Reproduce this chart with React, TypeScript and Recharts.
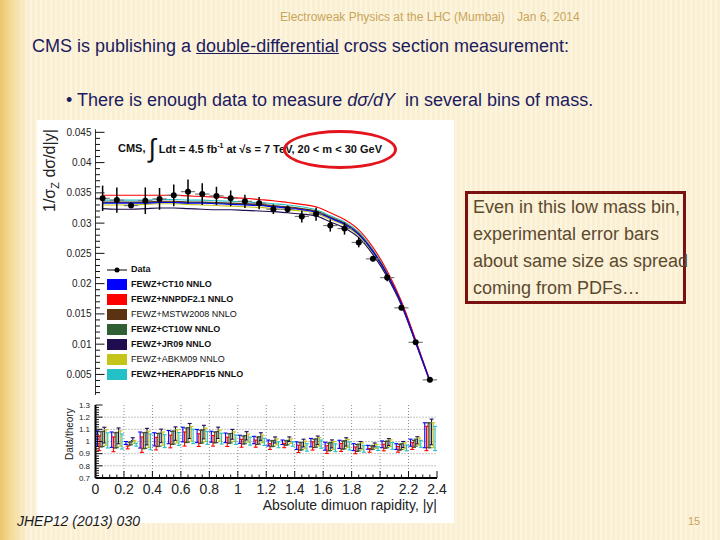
import React from 'react';
import { ComposedChart, Line, Scatter, XAxis, YAxis, ErrorBar, CartesianGrid } from 'recharts';

// |y| bins of width 0.1, points sit at the bin centres
const binCentres = [0.05, 0.15, 0.25, 0.35, 0.45, 0.55, 0.65, 0.75, 0.85, 0.95, 1.05, 1.15, 1.25, 1.35, 1.45, 1.55, 1.65, 1.75, 1.85, 1.95, 2.05, 2.15, 2.25, 2.35];
const binHalfWidth = 0.05;

// CMS data, 20 < m < 30 GeV, 1/sigma dsigma/d|y|
const dataValues = [0.0341, 0.0338, 0.0329, 0.0337, 0.0340, 0.0346, 0.0352, 0.0348, 0.0345, 0.0341, 0.0336, 0.0333, 0.0323, 0.0323, 0.0311, 0.0315, 0.0296, 0.0291, 0.0268, 0.0241, 0.0210, 0.0160, 0.0103, 0.0041];
const dataErrors = [0.0021, 0.0021, 0.0004, 0.0022, 0.0018, 0.0018, 0.0020, 0.0018, 0.0015, 0.0013, 0.0011, 0.0010, 0.0008, 0.0006, 0.0010, 0.0011, 0.0010, 0.0010, 0.0008, 0.0004, 0.0006, 0.0004, 0.0003, 0.0004];

// FEWZ NNLO predictions per PDF set
const ct10 = [0.0333, 0.0333, 0.0333, 0.0333, 0.0334, 0.0334, 0.0333, 0.0333, 0.0332, 0.0331, 0.0330, 0.0329, 0.0327, 0.0325, 0.0322, 0.0318, 0.0308, 0.0298, 0.0281, 0.0253, 0.0215, 0.0167, 0.0104, 0.0039];
const nnpdf = [0.0346, 0.0346, 0.0346, 0.0346, 0.0346, 0.0346, 0.0345, 0.0344, 0.0343, 0.0342, 0.0341, 0.0339, 0.0337, 0.0334, 0.0331, 0.0327, 0.0317, 0.0306, 0.0289, 0.0260, 0.0221, 0.0171, 0.0107, 0.0040];
const mstw = [0.0335, 0.0335, 0.0335, 0.0335, 0.0336, 0.0336, 0.0335, 0.0335, 0.0334, 0.0333, 0.0332, 0.0331, 0.0329, 0.0327, 0.0324, 0.0320, 0.0310, 0.0300, 0.0283, 0.0254, 0.0216, 0.0168, 0.0105, 0.0039];
const ct10w = [0.0334, 0.0334, 0.0334, 0.0334, 0.0335, 0.0335, 0.0334, 0.0334, 0.0333, 0.0332, 0.0331, 0.0330, 0.0328, 0.0326, 0.0323, 0.0319, 0.0309, 0.0299, 0.0282, 0.0253, 0.0215, 0.0167, 0.0104, 0.0039];
const jr09 = [0.0324, 0.0323, 0.0323, 0.0324, 0.0325, 0.0325, 0.0324, 0.0323, 0.0322, 0.0322, 0.0321, 0.0320, 0.0319, 0.0317, 0.0315, 0.0312, 0.0302, 0.0292, 0.0276, 0.0248, 0.0211, 0.0164, 0.0102, 0.0038];
const abkm = [0.0330, 0.0330, 0.0330, 0.0331, 0.0332, 0.0332, 0.0331, 0.0330, 0.0329, 0.0328, 0.0327, 0.0326, 0.0324, 0.0322, 0.0320, 0.0316, 0.0306, 0.0296, 0.0279, 0.0251, 0.0213, 0.0166, 0.0103, 0.0039];
const hera = [0.0338, 0.0338, 0.0338, 0.0338, 0.0339, 0.0339, 0.0338, 0.0338, 0.0337, 0.0336, 0.0335, 0.0334, 0.0332, 0.0330, 0.0327, 0.0322, 0.0312, 0.0302, 0.0285, 0.0256, 0.0218, 0.0169, 0.0105, 0.0040];

const pdfKeys = ['ct10', 'nnpdf', 'mstw', 'ct10w', 'jr09', 'abkm', 'hera'];
const pdfNames = ['FEWZ+CT10 NNLO', 'FEWZ+NNPDF2.1 NNLO', 'FEWZ+MSTW2008 NNLO', 'FEWZ+CT10W NNLO', 'FEWZ+JR09 NNLO', 'FEWZ+ABKM09 NNLO', 'FEWZ+HERAPDF15 NNLO'];
const pdfValues = [ct10, nnpdf, mstw, ct10w, jr09, abkm, hera];
const pdfColors = ['#0000ff', '#ff0000', '#5c3312', '#2f5f32', '#1f0d4f', '#c4c41a', '#22c1c8'];
const pdfBold = [true, true, false, true, true, false, true];
// where each pdf's ratio bar sits inside its bin
const clusterOffsets = [-0.036, -0.024, -0.012, 0, 0.012, 0.024, 0.036];

// axis ticks
const mainYTicks = [0.005, 0.01, 0.015, 0.02, 0.025, 0.03, 0.035, 0.04, 0.045];
const ratioYTicks = [0.7, 0.8, 0.9, 1, 1.1, 1.2, 1.3];
const xTicks = [0, 0.2, 0.4, 0.6, 0.8, 1, 1.2, 1.4, 1.6, 1.8, 2, 2.2, 2.4];
const ratioGridY = [0.8, 0.9, 1, 1.1, 1.2];
const ratioGridX = [0.2, 0.4, 0.6, 0.8, 1, 1.2, 1.4, 1.6, 1.8, 2, 2.2];

const steps = (from: number, to: number, step: number, dec: number) => {
  const out: number[] = [];
  for (let v = from; v <= to + step / 2; v += step) out.push(+v.toFixed(dec));
  return out;
};
const mainYAll = steps(0.002, 0.045, 0.001, 3);
const ratioYAll = steps(0.7, 1.3, 0.02, 2);
const xAll = steps(0, 2.4, 0.05, 2);

const theoryRows = binCentres.map((x, k) => {
  const row: Record<string, number> = { x };
  pdfKeys.forEach((key, i) => { row[key] = pdfValues[i][k]; });
  return row;
});
const dataRows = binCentres.map((x, k) => ({ x, y: dataValues[k], err: dataErrors[k], xerr: binHalfWidth }));
const ratioRows = pdfValues.map((vals, i) =>
  binCentres.map((x, k) => ({ x: x + clusterOffsets[i], r: dataValues[k] / vals[k], e: dataErrors[k] / vals[k] }))
);

const FONT = '"Liberation Sans", Arial, Helvetica, sans-serif';

type Side = 'left' | 'right' | 'top' | 'bottom';
function tickMaker(side: Side, majors: number[], gap: number, majorLen: number, minorLen: number, label: boolean, fontSize = 10) {
  return (props: any) => {
    const { x, y, payload } = props;
    const v = payload.value;
    const isMajor = majors.some((m) => Math.abs(m - v) < 1e-6);
    const len = isMajor ? majorLen : minorLen;
    let line;
    if (side === 'left') { const e = x + gap; line = <line x1={e} y1={y} x2={e + len} y2={y} />; }
    else if (side === 'right') { const e = x - gap; line = <line x1={e} y1={y} x2={e - len} y2={y} />; }
    else if (side === 'bottom') { const e = y - gap; line = <line x1={x} y1={e} x2={x} y2={e - len} />; }
    else { const e = y + gap; line = <line x1={x} y1={e} x2={x} y2={e + len} />; }
    return (
      <g>
        <g stroke="#111" strokeWidth={1}>{line}</g>
        {label && isMajor && side === 'left' && (
          <text x={x} y={y} dy="0.35em" textAnchor="end" fontSize={fontSize} fill="#222">{String(v)}</text>
        )}
        {label && isMajor && side === 'bottom' && (
          <text x={x} y={y} dy="0.71em" textAnchor="middle" fontSize={fontSize} fill="#222">{String(v)}</text>
        )}
      </g>
    );
  };
}

const DataDot = (p: any) => <circle cx={p.cx} cy={p.cy} r={3} fill="#000" />;
const NoShape = () => <g />;

function MainPanel() {
  const frame = { stroke: '#333', strokeWidth: 1 };
  return (
    <ComposedChart width={417} height={280} data={theoryRows} margin={{ top: 9.3, right: 17, bottom: 5, left: 0 }}>
      <XAxis dataKey="x" type="number" domain={[0, 2.4]} allowDataOverflow ticks={xAll} interval={0} height={0}
        tickSize={0} tickMargin={0} tickLine={false} axisLine={frame} tick={tickMaker('bottom', xTicks, 0, 9, 4.5, false)} />
      <XAxis xAxisId="top" orientation="top" dataKey="x" type="number" domain={[0, 2.4]} allowDataOverflow ticks={xAll} interval={0} height={0}
        tickSize={0} tickMargin={0} tickLine={false} axisLine={frame} tick={tickMaker('top', xTicks, 0, 9, 4.5, false)} />
      <YAxis type="number" domain={[0.0016, 0.0455]} allowDataOverflow ticks={mainYAll} interval={0} width={58.5}
        tickSize={0} tickMargin={4} tickLine={false} axisLine={frame} tick={tickMaker('left', mainYTicks, 4, 9, 4.5, true, 10)} />
      <YAxis yAxisId="right" orientation="right" type="number" domain={[0.0016, 0.0455]} allowDataOverflow ticks={mainYAll} interval={0} width={0}
        tickSize={0} tickMargin={0} tickLine={false} axisLine={frame} tick={tickMaker('right', mainYTicks, 0, 9, 4.5, false)} />
      {pdfKeys.slice().reverse().map((key) => {
        const i = pdfKeys.indexOf(key);
        return (
          <Line key={key} dataKey={key} type="monotone" stroke={pdfColors[i]} strokeWidth={1.1}
            dot={false} activeDot={false} isAnimationActive={false} />
        );
      })}
      <Scatter data={dataRows} dataKey="y" shape={DataDot} isAnimationActive={false}>
        <ErrorBar dataKey="xerr" direction="x" width={0} stroke="#777" strokeWidth={1.2} />
        <ErrorBar dataKey="err" direction="y" width={0} stroke="#000" strokeWidth={1.5} />
      </Scatter>
    </ComposedChart>
  );
}

function RatioPanel() {
  const frame = { stroke: '#000', strokeWidth: 2 };
  return (
    <ComposedChart width={417} height={125} margin={{ top: 7, right: 17, bottom: 0, left: 0 }}>
      <CartesianGrid stroke="#888" strokeDasharray="1 2" horizontalValues={ratioGridY} verticalValues={ratioGridX} />
      <XAxis dataKey="x" type="number" domain={[0, 2.4]} allowDataOverflow ticks={xAll} interval={0} height={45}
        tickSize={0} tickMargin={6} tickLine={false} axisLine={frame} tick={tickMaker('bottom', xTicks, 6, 7, 3.5, true, 14)} />
      <XAxis xAxisId="top" orientation="top" dataKey="x" type="number" domain={[0, 2.4]} allowDataOverflow ticks={xAll} interval={0} height={0}
        tickSize={0} tickMargin={0} tickLine={false} axisLine={frame} tick={tickMaker('top', xTicks, 0, 7, 3.5, false)} />
      <YAxis type="number" domain={[0.7, 1.3]} allowDataOverflow ticks={ratioYAll} interval={0} width={58.5}
        tickSize={0} tickMargin={5.5} tickLine={false} axisLine={frame} tick={tickMaker('left', ratioYTicks, 5.5, 7, 3.5, true, 8)} />
      <YAxis yAxisId="right" orientation="right" type="number" domain={[0.7, 1.3]} allowDataOverflow ticks={ratioYAll} interval={0} width={0}
        tickSize={0} tickMargin={0} tickLine={false} axisLine={frame} tick={tickMaker('right', ratioYTicks, 0, 7, 3.5, false)} />
      {ratioRows.map((rows, i) => (
        <Scatter key={pdfKeys[i]} data={rows} dataKey="r" shape={NoShape} isAnimationActive={false}>
          <ErrorBar dataKey="e" direction="y" width={2} stroke={pdfColors[i]} strokeWidth={1.1} />
        </Scatter>
      ))}
    </ComposedChart>
  );
}

function PlotLegend() {
  return (
    <div style={{ position: 'absolute', left: 70, top: 142, fontSize: 9, color: '#111', lineHeight: '15px' }}>
      <div style={{ display: 'flex', alignItems: 'center', height: 15 }}>
        <svg width={20} height={10} style={{ marginRight: 4 }}>
          <line x1={0} y1={5} x2={20} y2={5} stroke="#000" strokeWidth={1} />
          <circle cx={10} cy={5} r={2.5} fill="#000" />
        </svg>
        <span style={{ fontWeight: 'bold' }}>Data</span>
      </div>
      {pdfNames.map((name, i) => (
        <div key={name} style={{ display: 'flex', alignItems: 'center', height: 15 }}>
          <span style={{ width: 20, height: 11, background: pdfColors[i], marginRight: 4, display: 'inline-block' }} />
          <span style={{ fontWeight: pdfBold[i] ? 'bold' : 'normal' }}>{name}</span>
        </div>
      ))}
    </div>
  );
}

export default function App() {
  const slideBg =
    'linear-gradient(90deg, #ecc56a 0px, #f3d993 10px, rgba(251,239,210,0) 28px),' +
    'repeating-linear-gradient(90deg, rgba(255,255,255,0.35) 0px, rgba(255,255,255,0.35) 2px, rgba(0,0,0,0) 2px, rgba(0,0,0,0) 5px),' +
    '#fbefd2';
  return (
    <div style={{ position: 'absolute', left: 0, top: 0, width: 720, height: 540, overflow: 'hidden', background: slideBg, fontFamily: FONT }}>
      <div style={{ position: 'absolute', left: 280, top: 10, fontSize: 12, lineHeight: '14px', color: '#c9a55a', whiteSpace: 'nowrap' }}>
        Electroweak Physics at the LHC (Mumbai)
      </div>
      <div style={{ position: 'absolute', left: 517, top: 10, fontSize: 12, lineHeight: '14px', color: '#c9a55a', whiteSpace: 'nowrap' }}>
        Jan 6, 2014
      </div>
      <div style={{ position: 'absolute', left: 32, top: 36, fontSize: 18, lineHeight: '20px', color: '#1b1b5e', whiteSpace: 'nowrap' }}>
        CMS is publishing a <span style={{ textDecoration: 'underline' }}>double-differential</span> cross section measurement:
      </div>
      <div style={{ position: 'absolute', left: 66, top: 90, fontSize: 18, lineHeight: '20px', color: '#1b1b5e', whiteSpace: 'nowrap' }}>
        • There is enough data to measure <i>dσ/dY</i>&nbsp; in several bins of mass.
      </div>

      <div style={{ position: 'absolute', left: 37, top: 120, width: 417, height: 403, background: '#fff' }}>
        <div style={{ position: 'absolute', left: 0, top: 0 }}><MainPanel /></div>
        <div style={{ position: 'absolute', left: 0, top: 278 }}><RatioPanel /></div>

        <div style={{ position: 'absolute', left: 3, top: 92, transformOrigin: '0 0', transform: 'rotate(-90deg)', fontSize: 16, lineHeight: '20px', color: '#222', whiteSpace: 'nowrap' }}>
          1/σ<sub style={{ fontSize: 11 }}>Z</sub> dσ/d|y|
        </div>
        <div style={{ position: 'absolute', left: 26.5, top: 340, transformOrigin: '0 0', transform: 'rotate(-90deg)', fontSize: 10, lineHeight: '12px', color: '#222', whiteSpace: 'nowrap' }}>
          Data/theory
        </div>
        <div style={{ position: 'absolute', right: 17, top: 376, fontSize: 14, lineHeight: '18px', color: '#222', whiteSpace: 'nowrap' }}>
          Absolute dimuon rapidity, |y|
        </div>

        <div style={{ position: 'absolute', left: 81, top: 16, height: 24, display: 'flex', alignItems: 'center', fontSize: 11, fontWeight: 'bold', color: '#111', whiteSpace: 'pre' }}>
          <span>CMS, </span>
          <span style={{ fontSize: 26, fontWeight: 'normal', lineHeight: '24px' }}>∫</span>
          <span> Ldt = 4.5 fb<sup style={{ fontSize: 7 }}>-1</sup> at √s = 7 TeV, 20 &lt; m &lt; 30 GeV</span>
        </div>
        <PlotLegend />
      </div>

      <div style={{ position: 'absolute', left: 283, top: 130, width: 114, height: 39, boxSizing: 'border-box', border: '3px solid #e3141b', borderRadius: '50%' }} />

      <div style={{ position: 'absolute', left: 465, top: 191, width: 221, height: 113, boxSizing: 'border-box', border: '3px solid #7a1010' }}>
        <div style={{ paddingLeft: 5, fontSize: 18, lineHeight: '27px', color: '#5b4a2e', whiteSpace: 'nowrap' }}>
          Even in this low mass bin,<br />experimental error bars<br />about same size as spread<br />coming from PDFs…
        </div>
      </div>

      <div style={{ position: 'absolute', left: 17, top: 513, fontSize: 14, lineHeight: '16px', fontStyle: 'italic', color: '#1a1a1a', whiteSpace: 'nowrap' }}>
        JHEP12 (2013) 030
      </div>
      <div style={{ position: 'absolute', left: 688, top: 514, fontSize: 11, lineHeight: '14px', color: '#c9a55a' }}>15</div>
    </div>
  );
}
